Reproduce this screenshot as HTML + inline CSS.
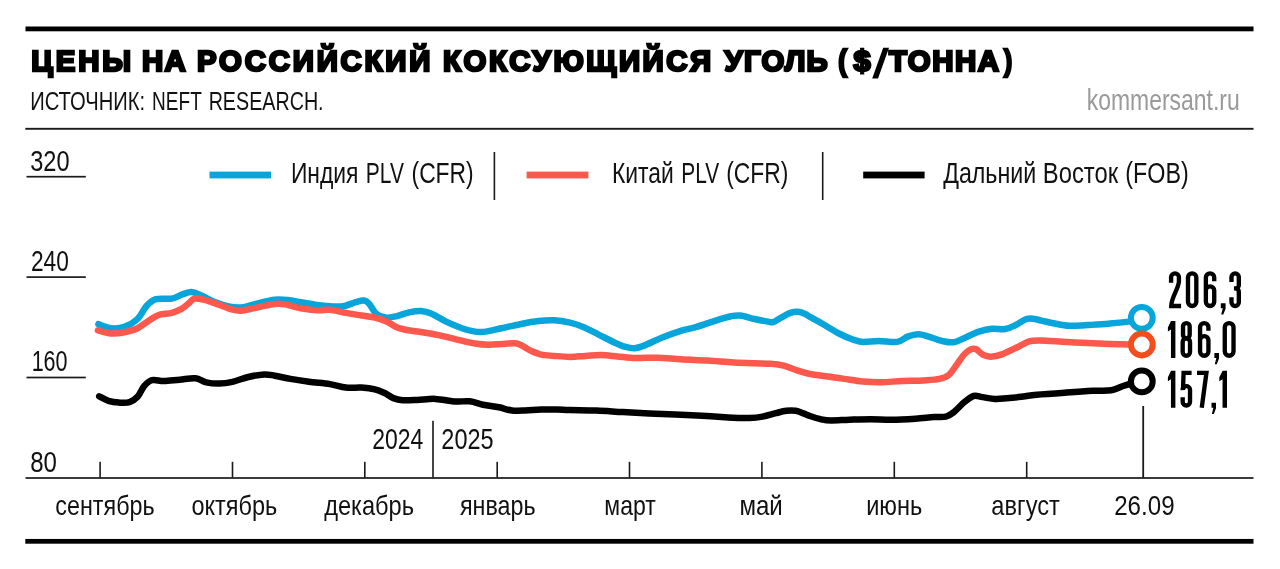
<!DOCTYPE html>
<html lang="ru"><head><meta charset="utf-8"><title>Цены на российский коксующийся уголь</title>
<style>html,body{margin:0;padding:0;background:#fff}svg{display:block;will-change:transform}text{font-family:"Liberation Sans",sans-serif;fill:#111}</style></head><body>
<svg width="1280" height="569" viewBox="0 0 1280 569">
<rect width="1280" height="569" fill="#fff"/>
<rect x="25.5" y="26.5" width="1228" height="4.8" fill="#000"/>
<rect x="25.3" y="127.85" width="1228.2" height="1.9" fill="#1a1a1a"/>
<rect x="25.3" y="538.95" width="1228.2" height="4.75" fill="#000"/>
<text id="t0" x="31.34" y="71.3" font-size="29.4" textLength="99.70" lengthAdjust="spacing" font-weight="700" stroke="#000" stroke-width="2.5" stroke-linejoin="miter" style="fill:#000">ЦЕНЫ</text>
<text id="t1" x="142.03" y="71.3" font-size="29.4" textLength="43.64" lengthAdjust="spacing" font-weight="700" stroke="#000" stroke-width="2.5" stroke-linejoin="miter" style="fill:#000">НА</text>
<text id="t2" x="197.03" y="71.3" font-size="29.4" textLength="233.36" lengthAdjust="spacing" font-weight="700" stroke="#000" stroke-width="2.5" stroke-linejoin="miter" style="fill:#000">РОССИЙСКИЙ</text>
<text id="t3" x="443.03" y="71.3" font-size="29.4" textLength="268.21" lengthAdjust="spacing" font-weight="700" stroke="#000" stroke-width="2.5" stroke-linejoin="miter" style="fill:#000">КОКСУЮЩИЙСЯ</text>
<text id="t4" x="724.61" y="71.3" font-size="29.4" textLength="103.04" lengthAdjust="spacing" font-weight="700" stroke="#000" stroke-width="2.5" stroke-linejoin="miter" style="fill:#000">УГОЛЬ</text>
<text id="t5" x="889.10" y="71.3" font-size="29.4" textLength="109.90" lengthAdjust="spacing" font-weight="700" stroke="#000" stroke-width="2.5" stroke-linejoin="miter" style="fill:#000">ТОННА</text>
<text id="t6" x="838.21" y="71.3" font-size="29.4" textLength="8.61" lengthAdjust="spacingAndGlyphs" font-weight="700" stroke="#000" stroke-width="2.5" stroke-linejoin="miter" style="fill:#000">(</text>
<text id="t7" x="853.48" y="71.3" font-size="29.4" textLength="17.12" lengthAdjust="spacingAndGlyphs" font-weight="700" stroke="#000" stroke-width="2.5" stroke-linejoin="miter" style="fill:#000">$</text>
<text id="t8" x="1004.03" y="71.3" font-size="29.4" textLength="8.12" lengthAdjust="spacingAndGlyphs" font-weight="700" stroke="#000" stroke-width="2.5" stroke-linejoin="miter" style="fill:#000">)</text>
<polygon points="872.2,78.5 878,78.5 889,47.7 883.2,47.7" fill="#000"/>
<text id="t9" x="30.17" y="110.4" font-size="25.6" textLength="114.88" lengthAdjust="spacingAndGlyphs" >ИСТОЧНИК:</text>
<text id="t10" x="152.08" y="110.4" font-size="25.6" textLength="49.71" lengthAdjust="spacingAndGlyphs" >NEFT</text>
<text id="t11" x="208.64" y="110.4" font-size="25.6" textLength="114.96" lengthAdjust="spacingAndGlyphs" >RESEARCH.</text>
<text id="t12" x="1086.73" y="109.5" font-size="28.6" textLength="153.00" lengthAdjust="spacingAndGlyphs" style="fill:#9a9a9a">kommersant.ru</text>
<rect x="26.5" y="175.85" width="59.3" height="1.7" fill="#1a1a1a"/>
<rect x="26.5" y="276.25" width="59.3" height="1.7" fill="#1a1a1a"/>
<rect x="26.5" y="376.65" width="59.3" height="1.7" fill="#1a1a1a"/>
<text id="t13" x="30.15" y="170.8" font-size="29.7" textLength="39.41" lengthAdjust="spacingAndGlyphs" >320</text>
<text id="t14" x="30.92" y="271" font-size="29.7" textLength="37.87" lengthAdjust="spacingAndGlyphs" >240</text>
<text id="t15" x="31.64" y="370.8" font-size="29.7" textLength="35.96" lengthAdjust="spacingAndGlyphs" >160</text>
<text id="t16" x="30.24" y="471.5" font-size="29.7" textLength="26.70" lengthAdjust="spacingAndGlyphs" >80</text>
<rect x="25.5" y="477.15" width="1228" height="1.7" fill="#1a1a1a"/>
<rect x="99.3" y="461.8" width="1.6" height="16" fill="#1a1a1a"/>
<rect x="231.7" y="461.8" width="1.6" height="16" fill="#1a1a1a"/>
<rect x="364.0" y="461.8" width="1.6" height="16" fill="#1a1a1a"/>
<rect x="496.4" y="461.8" width="1.6" height="16" fill="#1a1a1a"/>
<rect x="628.7" y="461.8" width="1.6" height="16" fill="#1a1a1a"/>
<rect x="761.1" y="461.8" width="1.6" height="16" fill="#1a1a1a"/>
<rect x="893.5" y="461.8" width="1.6" height="16" fill="#1a1a1a"/>
<rect x="1025.9" y="461.8" width="1.6" height="16" fill="#1a1a1a"/>
<rect x="432.2" y="420.8" width="1.6" height="57" fill="#1a1a1a"/>
<rect x="1142.3" y="406" width="1.8" height="72" fill="#1a1a1a"/>
<text id="t17" x="372.34" y="448.6" font-size="30" textLength="51.05" lengthAdjust="spacingAndGlyphs" >2024</text>
<text id="t18" x="441.35" y="448.6" font-size="30" textLength="52.23" lengthAdjust="spacingAndGlyphs" >2025</text>
<text id="t19" x="55.27" y="514.5" font-size="28.5" textLength="99.48" lengthAdjust="spacingAndGlyphs" >сентябрь</text>
<text id="t20" x="191.42" y="514.5" font-size="28.5" textLength="85.79" lengthAdjust="spacingAndGlyphs" >октябрь</text>
<text id="t21" x="324.13" y="514.5" font-size="28.5" textLength="89.88" lengthAdjust="spacingAndGlyphs" >декабрь</text>
<text id="t22" x="459.91" y="514.5" font-size="28.5" textLength="75.62" lengthAdjust="spacingAndGlyphs" >январь</text>
<text id="t23" x="604.31" y="514.5" font-size="28.5" textLength="51.53" lengthAdjust="spacingAndGlyphs" >март</text>
<text id="t24" x="739.39" y="514.5" font-size="28.5" textLength="43.40" lengthAdjust="spacingAndGlyphs" >май</text>
<text id="t25" x="866.21" y="514.5" font-size="28.5" textLength="56.16" lengthAdjust="spacingAndGlyphs" >июнь</text>
<text id="t26" x="991.36" y="514.5" font-size="28.5" textLength="68.46" lengthAdjust="spacingAndGlyphs" >август</text>
<text id="t27" x="1114.18" y="514.5" font-size="28.5" textLength="60.39" lengthAdjust="spacingAndGlyphs" >26.09</text>
<rect x="209.5" y="171.6" width="61.5" height="6.8" fill="#07a5da"/>
<rect x="526.6" y="171.6" width="61.8" height="6.8" fill="#fd584d"/>
<rect x="863.2" y="171.6" width="61.4" height="6.8" fill="#000"/>
<text id="t28" x="290.89" y="183" font-size="30" textLength="67.64" lengthAdjust="spacingAndGlyphs" >Индия</text>
<text id="t29" x="365.87" y="183" font-size="30" textLength="38.05" lengthAdjust="spacingAndGlyphs" >PLV</text>
<text id="t30" x="411.53" y="183" font-size="30" textLength="62.17" lengthAdjust="spacingAndGlyphs" >(CFR)</text>
<text id="t31" x="611.96" y="183" font-size="30" textLength="61.80" lengthAdjust="spacingAndGlyphs" >Китай</text>
<text id="t32" x="681.35" y="183" font-size="30" textLength="37.92" lengthAdjust="spacingAndGlyphs" >PLV</text>
<text id="t33" x="726.21" y="183" font-size="30" textLength="62.18" lengthAdjust="spacingAndGlyphs" >(CFR)</text>
<text id="t34" x="943.16" y="183" font-size="30" textLength="93.07" lengthAdjust="spacingAndGlyphs" >Дальний</text>
<text id="t35" x="1042.83" y="183" font-size="30" textLength="75.29" lengthAdjust="spacingAndGlyphs" >Восток</text>
<text id="t36" x="1125.35" y="183" font-size="30" textLength="63.44" lengthAdjust="spacingAndGlyphs" >(FOB)</text>
<rect x="493.6" y="152" width="1.6" height="48" fill="#1a1a1a"/>
<rect x="821.9" y="152" width="1.6" height="48" fill="#1a1a1a"/>
<path d="M99.2,396.3C100.8,397.1 105.2,399.8 108.5,400.8C111.8,401.9 115.5,402.4 119.0,402.6C122.5,402.8 126.5,403.1 129.6,402.1C132.7,401.1 135.1,399.4 137.5,396.8C139.9,394.2 141.7,389.0 144.1,386.2C146.5,383.4 148.7,381.1 152.0,380.2C155.3,379.3 159.3,381.1 163.9,381.0C168.5,380.9 174.4,380.1 179.7,379.7C185.0,379.2 191.1,377.9 195.5,378.3C199.9,378.7 202.1,381.4 206.1,382.3C210.1,383.2 214.9,383.7 219.3,383.6C223.7,383.5 227.7,382.9 232.5,381.8C237.3,380.7 243.0,378.2 248.3,377.0C253.6,375.8 259.7,374.6 264.1,374.4C268.5,374.2 270.3,374.9 274.7,375.7C279.1,376.4 284.8,377.9 290.5,378.9C296.2,379.9 302.4,380.9 309.0,381.8C315.6,382.7 323.9,383.1 330.0,384.1C336.1,385.1 340.5,387.0 345.8,387.6C351.1,388.2 356.9,387.3 361.7,387.6C366.5,387.9 371.2,388.5 374.9,389.4C378.6,390.3 381.0,391.4 384.1,392.8C387.2,394.2 390.2,396.9 393.3,398.1C396.4,399.3 398.6,399.9 402.6,400.2C406.6,400.5 411.6,400.2 417.1,400.0C422.6,399.8 429.4,398.6 435.5,398.9C441.6,399.1 448.3,401.1 454.0,401.5C459.7,401.9 465.0,400.8 469.8,401.3C474.6,401.8 478.1,403.7 483.0,404.7C487.9,405.7 494.1,406.3 498.9,407.3C503.7,408.3 507.6,410.0 512.0,410.5C516.4,411.0 520.4,410.7 525.3,410.5C530.1,410.3 535.8,409.7 541.1,409.5C546.4,409.3 552.1,409.4 556.9,409.5C561.7,409.6 563.4,409.8 570.0,410.0C576.6,410.2 587.6,410.1 596.4,410.5C605.2,410.9 614.0,411.6 622.8,412.1C631.6,412.6 640.4,413.0 649.2,413.4C658.0,413.8 666.7,414.1 675.5,414.5C684.3,414.9 693.1,415.3 701.9,415.8C710.7,416.3 720.4,417.0 728.3,417.4C736.2,417.8 743.7,418.0 749.4,417.9C755.1,417.8 758.2,417.4 762.6,416.6C767.0,415.8 771.8,414.2 775.8,413.2C779.8,412.2 783.1,411.2 786.4,410.8C789.7,410.4 792.8,410.4 795.6,410.8C798.5,411.2 801.1,412.5 803.5,413.4C805.9,414.3 807.1,415.0 810.0,416.0C812.9,417.0 817.1,418.4 820.6,419.2C824.1,419.9 826.3,420.4 831.1,420.5C835.9,420.6 843.0,419.9 849.6,419.7C856.2,419.5 863.7,419.2 870.7,419.2C877.7,419.2 884.3,419.8 891.8,419.7C899.3,419.6 908.5,419.1 915.5,418.7C922.5,418.3 928.9,417.4 934.0,417.1C939.1,416.7 942.6,417.4 945.9,416.6C949.2,415.8 950.7,414.5 953.8,412.1C956.9,409.7 961.1,404.8 964.4,402.1C967.7,399.4 970.6,396.8 973.6,396.0C976.6,395.2 978.9,396.6 982.5,397.1C986.1,397.6 991.0,398.8 995.0,399.0C999.0,399.2 1002.1,398.7 1006.5,398.3C1010.9,397.9 1016.0,397.4 1021.1,396.8C1026.2,396.2 1029.4,395.4 1036.9,394.7C1044.5,394.0 1057.1,393.2 1066.4,392.6C1075.7,391.9 1085.3,391.2 1092.8,390.8C1100.3,390.4 1106.4,391.0 1111.2,390.3C1116.0,389.6 1118.7,387.6 1121.8,386.5C1124.9,385.4 1126.4,384.9 1129.7,384.0C1133.0,383.1 1139.8,381.7 1141.8,381.2" stroke="#000" fill="none" stroke-width="6.5" stroke-linecap="round" stroke-linejoin="round"/>
<path d="M98.4,324.2C100.5,324.9 106.8,327.8 111.1,328.2C115.4,328.6 119.9,328.4 124.3,326.9C128.7,325.4 133.8,322.5 137.5,319.0C141.2,315.5 143.6,309.1 146.7,305.8C149.8,302.5 151.8,300.4 156.0,299.2C160.2,298.0 167.4,299.4 171.8,298.6C176.2,297.8 179.0,295.5 182.3,294.4C185.6,293.3 188.5,291.9 191.6,292.0C194.7,292.1 197.1,293.6 200.8,295.2C204.5,296.8 209.2,299.9 214.0,301.8C218.8,303.7 225.0,305.7 229.8,306.6C234.6,307.5 238.2,307.7 243.0,307.1C247.8,306.5 253.6,304.3 258.9,303.1C264.2,301.9 269.9,300.2 274.7,299.7C279.5,299.2 283.5,299.6 287.9,300.0C292.3,300.4 296.3,301.5 301.1,302.3C305.9,303.1 312.1,304.3 316.9,305.0C321.7,305.7 325.6,306.1 330.0,306.3C334.4,306.5 339.0,307.0 343.2,306.3C347.4,305.6 351.6,303.3 355.1,302.3C358.6,301.3 361.9,300.1 364.3,300.5C366.7,300.9 367.6,302.2 369.6,304.4C371.6,306.6 373.6,311.5 376.2,313.7C378.8,315.9 382.1,317.2 385.4,317.6C388.7,318.0 392.0,317.2 396.0,316.3C400.0,315.4 405.0,313.3 409.2,312.4C413.4,311.5 417.3,310.8 421.0,311.0C424.7,311.2 427.4,311.9 431.6,313.7C435.8,315.5 441.1,319.2 446.1,321.6C451.2,324.0 457.1,326.5 461.9,328.2C466.7,329.9 471.1,331.0 475.1,331.6C479.1,332.2 481.3,332.2 485.7,331.6C490.1,331.0 495.8,329.4 501.5,328.2C507.2,327.0 513.9,325.4 520.0,324.2C526.1,323.0 532.7,321.7 538.4,321.1C544.1,320.4 549.0,320.0 554.3,320.3C559.6,320.6 565.2,321.6 570.0,322.7C574.8,323.8 578.4,324.9 583.2,326.9C588.0,328.9 593.7,332.2 599.0,334.8C604.3,337.4 610.3,340.6 614.9,342.7C619.5,344.8 623.2,346.3 626.7,347.2C630.2,348.1 632.7,348.4 636.0,348.0C639.3,347.6 642.1,346.4 646.5,344.6C650.9,342.8 656.6,339.7 662.3,337.4C668.0,335.1 675.1,332.6 680.8,330.8C686.5,329.1 690.9,328.6 696.6,326.9C702.3,325.2 709.4,322.6 715.1,320.8C720.8,319.0 726.7,317.2 730.9,316.3C735.1,315.4 736.2,315.1 740.2,315.5C744.2,315.9 750.1,318.0 754.7,319.0C759.3,320.0 764.8,321.1 767.9,321.6C771.0,322.1 771.0,322.8 773.2,322.1C775.4,321.4 778.2,319.1 781.1,317.6C784.0,316.1 787.4,313.9 790.3,312.9C793.1,311.9 795.8,311.7 798.2,311.8C800.6,311.9 802.8,312.9 804.8,313.7C806.8,314.5 806.9,315.1 810.0,316.9C813.1,318.6 818.4,321.4 823.2,324.2C828.0,327.0 834.2,331.0 839.0,333.5C843.8,336.0 848.2,337.9 852.2,339.3C856.2,340.7 858.4,341.6 862.8,341.9C867.2,342.2 872.9,340.9 878.6,340.9C884.3,340.9 892.3,342.6 897.1,341.9C901.9,341.2 904.1,337.9 907.6,336.6C911.1,335.3 914.7,334.3 918.2,334.3C921.7,334.3 924.8,335.5 928.7,336.6C932.7,337.7 937.7,340.0 941.9,340.9C946.1,341.8 949.8,342.8 953.8,342.2C957.8,341.6 961.5,339.2 965.7,337.4C969.9,335.6 974.5,333.0 978.9,331.6C983.3,330.1 987.7,329.1 992.1,328.7C996.5,328.3 1001.3,329.6 1005.3,329.0C1009.2,328.4 1012.3,326.7 1015.8,325.0C1019.3,323.3 1023.3,320.0 1026.4,319.0C1029.5,318.0 1031.7,318.7 1034.3,319.0C1036.9,319.3 1039.0,320.1 1042.2,320.8C1045.4,321.5 1048.7,322.4 1053.2,323.2C1057.7,324.0 1063.3,325.5 1069.0,325.8C1074.7,326.1 1080.9,325.4 1087.5,325.1C1094.1,324.7 1101.6,324.3 1108.6,323.7C1115.6,323.1 1124.2,322.4 1129.7,321.4C1135.2,320.4 1139.8,318.4 1141.8,317.8" stroke="#07a5da" fill="none" stroke-width="6.5" stroke-linecap="round" stroke-linejoin="round"/>
<path d="M97.9,330.3C100.1,330.8 106.7,333.2 111.1,333.5C115.5,333.8 119.9,333.1 124.3,332.2C128.7,331.3 133.3,330.2 137.5,328.2C141.7,326.2 145.9,322.5 149.4,320.3C152.9,318.1 154.9,316.2 158.6,315.0C162.3,313.8 168.1,313.9 171.8,312.9C175.5,311.9 178.1,310.8 181.0,309.2C183.9,307.6 186.8,304.9 189.0,303.1C191.2,301.3 191.8,299.2 194.2,298.6C196.6,298.0 199.8,298.8 203.5,299.7C207.2,300.6 211.8,302.2 216.6,303.9C221.4,305.6 228.1,308.6 232.5,309.7C236.9,310.8 238.6,310.9 243.0,310.5C247.4,310.1 253.6,308.2 258.9,307.1C264.2,306.0 270.3,304.3 274.7,303.9C279.1,303.4 280.9,303.6 285.3,304.4C289.7,305.1 295.8,307.4 301.1,308.4C306.4,309.4 312.1,310.1 316.9,310.3C321.7,310.5 325.2,309.3 330.0,309.7C334.8,310.1 340.5,311.9 345.8,312.9C351.1,313.9 356.9,314.7 361.7,315.5C366.5,316.3 370.7,316.6 374.9,317.6C379.1,318.6 383.2,320.0 386.7,321.6C390.2,323.1 392.7,325.5 396.0,326.9C399.3,328.3 402.1,329.1 406.5,330.0C410.9,330.9 416.6,331.3 422.3,332.2C428.0,333.1 434.6,334.3 440.8,335.6C447.0,336.9 453.6,338.8 459.3,340.1C465.0,341.4 470.3,342.7 475.1,343.5C479.9,344.3 483.9,344.7 488.3,344.8C492.7,344.9 497.1,344.3 501.5,344.0C505.9,343.7 511.4,343.0 514.7,343.2C518.0,343.4 518.7,344.1 521.3,345.3C523.9,346.5 527.2,349.0 530.5,350.6C533.8,352.1 537.1,353.7 541.1,354.6C545.1,355.5 549.5,355.5 554.3,355.9C559.1,356.3 564.8,356.9 570.0,356.9C575.2,356.9 580.5,356.2 585.8,355.9C591.1,355.6 596.4,355.0 601.7,355.1C607.0,355.2 611.8,355.9 617.5,356.4C623.2,356.9 629.4,357.8 636.0,358.0C642.6,358.2 649.6,357.5 657.1,357.7C664.6,357.9 672.4,358.8 680.8,359.3C689.1,359.8 698.4,360.1 707.2,360.6C716.0,361.1 725.7,362.1 733.6,362.5C741.5,362.9 748.6,363.1 754.7,363.3C760.9,363.5 765.7,363.4 770.5,363.8C775.3,364.2 779.3,364.6 783.7,365.7C788.1,366.8 792.5,369.0 796.9,370.4C801.3,371.8 805.2,373.0 810.0,374.0C814.8,375.0 820.1,375.4 825.8,376.2C831.5,377.0 838.1,378.0 844.3,378.9C850.5,379.8 856.6,380.9 862.8,381.5C868.9,382.1 874.6,382.4 881.2,382.3C887.8,382.2 895.2,381.3 902.3,381.0C909.3,380.7 917.3,380.8 923.5,380.4C929.7,380.0 935.1,379.8 939.3,378.9C943.5,378.0 945.6,377.5 948.5,375.2C951.4,372.9 953.8,368.6 956.4,365.1C959.0,361.6 962.0,356.7 964.4,354.1C966.8,351.5 969.0,350.1 971.0,349.3C973.0,348.5 974.2,348.4 976.2,349.3C978.2,350.2 980.4,353.4 982.8,354.6C985.2,355.8 987.4,356.8 990.7,356.7C994.0,356.6 998.0,355.8 1002.6,354.1C1007.2,352.4 1014.0,348.8 1018.4,346.7C1022.8,344.6 1025.5,342.4 1029.0,341.4C1032.5,340.3 1033.4,340.3 1039.6,340.4C1045.8,340.5 1057.5,341.5 1066.4,342.0C1075.3,342.5 1082.2,342.9 1092.8,343.3C1103.3,343.7 1121.5,344.4 1129.7,344.6C1137.9,344.8 1139.8,344.5 1141.8,344.5" stroke="#fd584d" fill="none" stroke-width="6.5" stroke-linecap="round" stroke-linejoin="round"/>
<circle cx="1141.8" cy="317.8" r="10.9" fill="#fff" stroke="#07a5da" stroke-width="6"/>
<circle cx="1141.8" cy="344.5" r="10.9" fill="#fff" stroke="#f24e1e" stroke-width="6"/>
<circle cx="1141.8" cy="381.4" r="10.9" fill="#fff" stroke="#000" stroke-width="6"/>
<g transform="translate(1168.90,271.20)"><path d="M2.175,11.6 V6.1 A3.9249999999999994,3.9249999999999994 0 0 1 10.024999999999999,6.1 V10.1 C10.024999999999999,17.1 2.375,25.825000000000003 2.375,34.825 H12.2" fill="none" stroke="#000" stroke-width="4.35" stroke-linejoin="miter" stroke-miterlimit="10"/></g>
<g transform="translate(1185.80,271.20)"><path d="M2.175,6.349999999999999 A4.174999999999999,4.174999999999999 0 0 1 10.524999999999999,6.349999999999999 V30.650000000000006 A4.174999999999999,4.174999999999999 0 0 1 2.175,30.650000000000006 Z" fill="none" stroke="#000" stroke-width="4.35" stroke-linejoin="miter" stroke-miterlimit="10"/></g>
<g transform="translate(1203.70,271.20)"><path d="M10.524999999999999,9.95 V6.349999999999999 A4.174999999999999,4.174999999999999 0 0 0 2.175,6.349999999999999 V30.650000000000006 A4.174999999999999,4.174999999999999 0 0 0 10.524999999999999,30.650000000000006 V19.375 A4.174999999999999,4.174999999999999 0 0 0 2.175,19.375" fill="none" stroke="#000" stroke-width="4.35" stroke-linejoin="miter" stroke-miterlimit="10"/></g>
<g transform="translate(1220.80,271.20)"><path d="M0,32.1 H4.8 V37.6 L2.496,43.4 H0.384 L2.016,37.0 H0 Z" fill="#000"/></g>
<g transform="translate(1229.30,271.20)"><path d="M2.175,10.85 V5.85 A3.6749999999999994,3.6749999999999994 0 0 1 9.524999999999999,5.85 V14.125 A3.0749999999999993,3.0749999999999993 0 0 1 6.1499999999999995,17.2 H4.6499999999999995" fill="none" stroke="#000" stroke-width="4.35" stroke-linejoin="miter" stroke-miterlimit="10"/><path d="M6.1499999999999995,17.2 A3.3749999999999996,3.3749999999999996 0 0 1 9.524999999999999,20.575 V31.150000000000002 A3.6749999999999994,3.6749999999999994 0 0 1 2.175,31.150000000000002 V26.150000000000002" fill="none" stroke="#000" stroke-width="4.35" stroke-linejoin="miter" stroke-miterlimit="10"/></g>
<g transform="translate(1167.90,320.90)"><path d="M3.0500000000000003,0 H7.5 V37.0 H3.0500000000000003 V8.6 L0,10.6 V6.6 L3.0500000000000003,0.2 Z" fill="#000"/></g>
<g transform="translate(1180.50,320.90)"><path d="M2.525,5.5 A3.3249999999999993,3.3249999999999993 0 0 1 9.174999999999999,5.5 V14.075 A3.3249999999999993,3.3249999999999993 0 0 1 2.525,14.075 Z" fill="none" stroke="#000" stroke-width="4.35" stroke-linejoin="miter" stroke-miterlimit="10"/><path d="M2.175,21.075 A3.6749999999999994,3.6749999999999994 0 0 1 9.524999999999999,21.075 V31.150000000000002 A3.6749999999999994,3.6749999999999994 0 0 1 2.175,31.150000000000002 Z" fill="none" stroke="#000" stroke-width="4.35" stroke-linejoin="miter" stroke-miterlimit="10"/></g>
<g transform="translate(1197.90,320.90)"><path d="M10.524999999999999,9.95 V6.349999999999999 A4.174999999999999,4.174999999999999 0 0 0 2.175,6.349999999999999 V30.650000000000006 A4.174999999999999,4.174999999999999 0 0 0 10.524999999999999,30.650000000000006 V19.375 A4.174999999999999,4.174999999999999 0 0 0 2.175,19.375" fill="none" stroke="#000" stroke-width="4.35" stroke-linejoin="miter" stroke-miterlimit="10"/></g>
<g transform="translate(1214.40,320.90)"><path d="M0,32.1 H4.6 V37.6 L2.392,43.4 H0.368 L1.9319999999999997,37.0 H0 Z" fill="#000"/></g>
<g transform="translate(1222.60,320.90)"><path d="M2.175,6.55 A4.375,4.375 0 0 1 10.925,6.55 V30.450000000000003 A4.375,4.375 0 0 1 2.175,30.450000000000003 Z" fill="none" stroke="#000" stroke-width="4.35" stroke-linejoin="miter" stroke-miterlimit="10"/></g>
<g transform="translate(1167.90,370.70)"><path d="M3.0500000000000003,0 H7.5 V37.0 H3.0500000000000003 V8.6 L0,10.6 V6.6 L3.0500000000000003,0.2 Z" fill="#000"/></g>
<g transform="translate(1180.50,370.70)"><path d="M11.1,2.175 H3.0749999999999997 L2.4749999999999996,19.2" fill="none" stroke="#000" stroke-width="4.35" stroke-linejoin="miter" stroke-miterlimit="10"/><path d="M2.175,19.474999999999998 A3.6749999999999994,3.6749999999999994 0 0 1 9.524999999999999,18.875 V31.150000000000002 A3.6749999999999994,3.6749999999999994 0 0 1 2.175,31.150000000000002 V26.650000000000002" fill="none" stroke="#000" stroke-width="4.35" stroke-linejoin="miter" stroke-miterlimit="10"/></g>
<g transform="translate(1197.00,370.70)"><path d="M0,2.175 H9.425 L4.746,37.0" fill="none" stroke="#000" stroke-width="4.35" stroke-linejoin="miter" stroke-miterlimit="10"/></g>
<g transform="translate(1211.50,370.70)"><path d="M0,32.1 H4.5 V37.6 L2.34,43.4 H0.36 L1.89,37.0 H0 Z" fill="#000"/></g>
<g transform="translate(1219.30,370.70)"><path d="M3.2500000000000004,0 H7.7 V37.0 H3.2500000000000004 V8.6 L0,10.6 V6.6 L3.2500000000000004,0.2 Z" fill="#000"/></g>
</svg></body></html>
